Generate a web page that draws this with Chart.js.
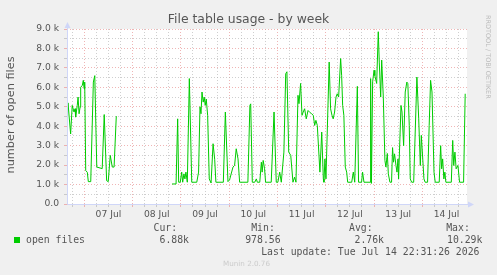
<!DOCTYPE html>
<html><head><meta charset="utf-8">
<script src="https://cdn.jsdelivr.net/npm/chart.js@4.4.1/dist/chart.umd.min.js"></script>
<style>
html,body{margin:0;padding:0;background:#f0f0f0;}
#wrap{position:relative;width:497px;height:275px;overflow:hidden;background:#f0f0f0;}
#c{position:absolute;left:0;top:0;}
.t{position:absolute;white-space:nowrap;line-height:1;}
.sans{font-family:"DejaVu Sans",sans-serif;color:#555;}
.mono{font-family:"DejaVu Sans Mono",monospace;font-size:9.8px;color:#555;}
</style></head><body>
<div id="wrap">
<canvas id="c" width="497" height="275"></canvas>
<div class="t sans" style="left:0;width:497px;text-align:center;top:12.8px;font-size:12.4px;">File table usage - by week</div>
<div class="t sans" style="left:11px;top:115px;font-size:11.3px;transform:translate(-50%,-50%) rotate(-90deg);">number of open files</div>
<div class="t sans" style="left:484px;top:15px;font-size:6.5px;color:#bbb;writing-mode:vertical-rl;">RRDTOOL / TOBI OETIKER</div>
<div style="position:absolute;left:14px;top:237px;width:6px;height:6px;background:#00cc00;"></div>
<div class="t mono" style="left:26px;top:235.3px;">open files</div>
<div class="t mono" style="left:153.5px;top:223px;">Cur:</div>
<div class="t mono" style="left:159.5px;top:235.3px;">6.88k</div>
<div class="t mono" style="left:251.2px;top:223px;">Min:</div>
<div class="t mono" style="left:245.2px;top:235.3px;">978.56</div>
<div class="t mono" style="left:349px;top:223px;">Avg:</div>
<div class="t mono" style="left:354.5px;top:235.3px;">2.76k</div>
<div class="t mono" style="left:446.2px;top:223px;">Max:</div>
<div class="t mono" style="left:447px;top:235.3px;">10.29k</div>
<div class="t mono" style="left:261.2px;top:247px;">Last update: Tue Jul 14 22:31:26 2026</div>
<div class="t sans" style="left:223px;top:259.8px;font-size:7.2px;color:#ccc;">Munin 2.0.76</div>
</div>
<script>
// hours since 07 Jul 00:00
const hours = [
 -8.6,-8.1,-6.8,-6.0,-5.1,-4.6,-4.3,-3.5,-3.1,-2.6,-2.1,-1.8,-1.0,-0.5,-0.1,0.2,0.7,1.5,2.0,3.2,4.5,5.2,6.2,8.9,9.9,11.1,11.9,12.9,13.9,14.8,15.9,
 30,
 43.6,45.6,46.4,46.9,47.7,48.4,48.9,49.5,50.0,50.5,51.2,52.2,53.4,55.9,56.8,57.5,58.0,58.5,59.1,59.6,60.1,60.6,61.3,62.1,63.0,64.0,64.8,65.4,69.1,70.1,
 71.4,72.2,73.9,74.7,75.5,76.4,77.2,81.3,82.3,82.7,83.5,84.7,85.5,86.0,87.2,88.0,88.4,88.9,89.6,90.1,92.9,94.3,95.4,96.2,97.1,97.9,
 99.2,100.1,100.7,101.6,102.6,103.7,104.5,105.2,106.2,106.7,107.5,108.2,108.8,109.5,110.3,111.2,112.2,113.0,113.8,114.5,115.1,115.8,
 117.1,118.0,118.8,119.1,119.6,120.1,121.7,122.4,123.1,123.7,124.4,125.1,125.7,126.4,127.4,127.9,128.4,129.0,129.7,130.4,130.9,132.9,
 133.7,134.4,135.7,136.3,137.8,138.3,139.0,142.0,142.3,142.7,143.3,144.0,144.4,145.3,146.1,146.6,147.3,147.8,148.6,149.4,149.9,150.6,
 151.1,151.9,152.7,153.2,153.7,154.2,154.9,155.4,155.9,156.2,157.4,157.9,158.7,159.5,160.3,160.8,161.5,162.0,162.7,163.7,165.3,166.2,
 167.0,167.5,168.8,169.4,170.6,171.4,172.1,172.8,173.8,174.4,176.4,177.1,177.6,178.1,178.7,179.2,179.7,182.4,183.1,183.6,184.2,184.8,
 185.7,186.5,188.5,189.3
];
const openFiles = [
 3700,5200,3600,5070,4730,4900,4470,5070,5500,4640,4980,6000,6100,6360,5930,6270,1720,1630,1150,1150,6270,6600,1900,1820,4600,1200,1150,2500,1900,1900,4520,
 null,
 1030,1030,4380,1120,1120,1640,1120,1550,1290,1640,1120,6450,1120,1120,1640,5000,4640,5760,5240,5500,5070,5400,4560,1290,1080,3100,2300,1120,1120,4730,
 1150,1240,1900,1980,2840,2320,1120,1120,5070,5150,1120,1120,1290,1120,1120,2150,1640,2240,1810,1120,1120,4730,1120,1120,1640,1120,
 2670,6700,6800,2670,2500,1120,1380,1120,5590,5160,6200,4560,4730,4900,4380,4810,4700,4640,4560,4040,4300,4040,
 1640,3700,1290,1120,2320,1290,7300,4900,4560,4380,4730,5500,5670,5500,7480,6600,5070,4560,1900,1640,1120,1120,
 1640,1120,6050,1120,1120,1640,1120,1120,6450,1060,6280,6880,6600,6200,8860,7300,5500,7400,5500,2240,1900,2600,
 1550,1120,1120,2900,2150,2580,1980,1640,2320,1290,5070,4730,3000,5760,6270,6190,4040,1290,1120,1120,6530,4380,
 1980,3530,1290,1120,1120,4040,6360,5760,1640,1120,1120,3000,1810,2320,1290,1640,1120,1120,3270,1980,2670,1810,
 1980,1120,1120,5670
];
const dayLabels = ['07 Jul','08 Jul','09 Jul','10 Jul','11 Jul','12 Jul','13 Jul','14 Jul'];
const xMin = -8.6, xMax = 190.2;
const yMax = 9000;

const points = hours.map((h,i)=>({x:h,y:openFiles[i]}));
const GRID_MINOR = 'rgba(175,175,175,0.6)';
const GRID_MAJOR = 'rgba(232,150,150,0.7)';
const AXIS = '#cfd6f8';

const bgPlugin = {
  id:'bg',
  beforeDraw(chart){
    const {ctx, chartArea:a} = chart;
    ctx.save();
    ctx.fillStyle='#f0f0f0'; ctx.fillRect(0,0,chart.width,chart.height);
    ctx.fillStyle='#ffffff'; ctx.fillRect(a.left,a.top,a.right-a.left,a.bottom-a.top);
    ctx.restore();
  },
  afterDraw(chart){
    const {ctx, chartArea:a} = chart;
    ctx.save();
    ctx.strokeStyle=AXIS; ctx.fillStyle=AXIS; ctx.lineWidth=1;
    const L=Math.round(a.left)+0.5, B=Math.round(a.bottom)+0.5;
    ctx.beginPath(); ctx.moveTo(L,B); ctx.lineTo(L,a.top-5); ctx.stroke();
    ctx.beginPath(); ctx.moveTo(L,B); ctx.lineTo(a.right+4,B); ctx.stroke();
    ctx.beginPath(); ctx.moveTo(L-3,a.top-1); ctx.lineTo(L+3,a.top-1); ctx.lineTo(L,a.top-7); ctx.closePath(); ctx.fill();
    ctx.beginPath(); ctx.moveTo(a.right+1,B-3); ctx.lineTo(a.right+1,B+3); ctx.lineTo(a.right+7,B); ctx.closePath(); ctx.fill();
    ctx.restore();
  }
};

new Chart(document.getElementById('c').getContext('2d'), {
  type:'line',
  data:{datasets:[{data:points,borderColor:'#00cc00',borderWidth:1,pointRadius:0,tension:0,spanGaps:false,fill:false}]},
  options:{
    responsive:false, animation:false, devicePixelRatio:1,
    layout:{padding:{top:29,right:30,left:0,bottom:0}},
    plugins:{legend:{display:false},tooltip:{enabled:false},title:{display:false}},
    scales:{
      x:{
        type:'linear', min:xMin, max:xMax,
        afterBuildTicks(s){ const t=[]; for(let v=-6; v<=186; v+=6) t.push({value:v}); s.ticks=t; },
        afterFit(s){ s.height=71; },
        grid:{color:c=>(c.tick && c.tick.value%24===0)?GRID_MAJOR:GRID_MINOR, lineWidth:1, tickLength:3,
              tickColor:c=>(c.tick && c.tick.value%24===0)?GRID_MAJOR:GRID_MINOR},
        border:{display:false, dash:[1,2]},
        ticks:{autoSkip:false, maxRotation:0, minRotation:0, padding:2, color:'#555',
          font:{family:'DejaVu Sans', size:9.2},
          callback:v=>{ const m=((v%24)+24)%24; if(m!==12) return ''; const i=(v-12)/24; return dayLabels[i]||''; }}
      },
      y:{
        min:0, max:yMax,
        afterBuildTicks(s){ const t=[]; for(let v=0; v<=yMax; v+=500) t.push({value:v}); s.ticks=t; },
        afterFit(s){ s.width=67; },
        grid:{color:c=>(c.tick && c.tick.value%1000===0)?GRID_MAJOR:GRID_MINOR, lineWidth:1, tickLength:3,
              tickColor:c=>(c.tick && c.tick.value%1000===0)?GRID_MAJOR:GRID_MINOR},
        border:{display:false, dash:[1,2]},
        ticks:{autoSkip:false, padding:5, color:'#555', font:{family:'DejaVu Sans', size:9.2},
          callback:v=> v%1000!==0 ? '' : (v===0 ? '0.0' : (v/1000).toFixed(1)+' k')}
      }
    }
  },
  plugins:[bgPlugin]
});
</script>
</body></html>
